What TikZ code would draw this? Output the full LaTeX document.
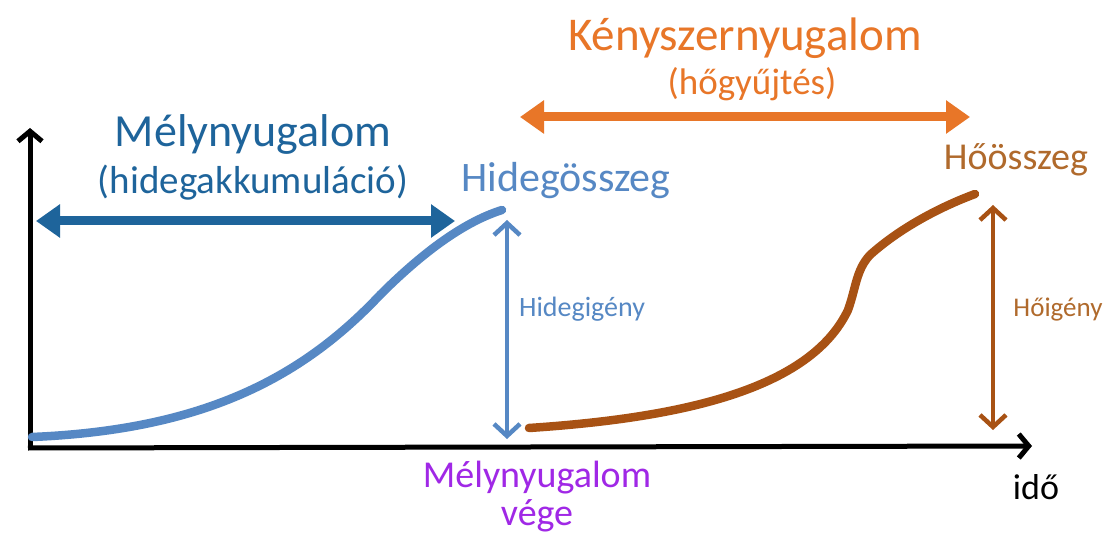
\documentclass[tikz,border=0pt]{standalone}
\usepackage{fontspec}
\setmainfont{Carlito}
\usetikzlibrary{arrows.meta}
\definecolor{cblue}{RGB}{86,136,196}
\definecolor{dblue}{RGB}{30,100,155}
\definecolor{orng}{RGB}{232,118,40}
\definecolor{brwn}{RGB}{168,82,20}
\definecolor{ltbrwn}{RGB}{176,106,44}
\definecolor{purp}{RGB}{160,40,230}
\tikzset{
  axis/.style={line width=5pt,-{Straight Barb[length=10pt,width=24pt,line width=5pt]}},
  curve/.style={line width=8.5pt,line cap=round},
  thin2/.style={line width=4.5pt,{Straight Barb[length=12pt,width=26pt,line width=4.5pt]}-{Straight Barb[length=12pt,width=26pt,line width=4.5pt]}},
  thick2/.style={line width=9pt,{Triangle[length=24pt,width=32pt]}-{Triangle[length=24pt,width=32pt]}},
  lbl/.style={inner sep=0pt,anchor=center}
}
\begin{document}
\begin{tikzpicture}[x=1pt,y=-1pt]
\fill[white] (0,0) rectangle (1105,534);
\useasboundingbox (0,0) rectangle (1105,534);
% axes
\coordinate (O) at (30,448);
\coordinate (Ytop) at (30,128);
\coordinate (Xend) at (1032,446);
\draw[axis] (O) -- (Ytop);
\draw[axis] (28,448) -- (Xend);
% blue curve
\draw[curve,cblue] (32,437) .. controls (200,430) and (300,380) .. (380,295)
  .. controls (430,245) and (470,220) .. (502,210);
% brown curve
\draw[curve,brwn] (529,428) .. controls (680,418) and (810,390) .. (848,310)
  .. controls (856,288) and (856,270) .. (870,255)
  .. controls (900,228) and (940,207) .. (975,194);
% vertical double arrows
\coordinate (bt) at (507,220);
\coordinate (bb) at (507,439);
\draw[thin2,cblue] (bt) -- (bb);
\coordinate (rt) at (993,205);
\coordinate (rb) at (993,430);
\draw[thin2,brwn] (rt) -- (rb);
% horizontal thick arrows
\coordinate (dl) at (36,221);
\coordinate (dr) at (455,221);
\draw[thick2,dblue] (dl) -- (dr);
\coordinate (ol) at (520,117);
\coordinate (or) at (970,117);
\draw[thick2,orng] (ol) -- (or);
% labels
\node[lbl,dblue,font=\fontsize{46}{46}\selectfont] (mely) at (253,134) {Mélynyugalom};
\node[lbl,dblue,font=\fontsize{39}{39}\selectfont] (hidak) at (253,183) {(hidegakkumuláció)};
\node[lbl,orng,font=\fontsize{47}{47}\selectfont] (keny) at (745,38) {Kényszernyugalom};
\node[lbl,orng,font=\fontsize{37}{37}\selectfont] (hogy) at (752,84) {(hőgyűjtés)};
\node[lbl,cblue,font=\fontsize{42}{42}\selectfont] (hossz) at (566,181) {Hidegösszeg};
\node[lbl,ltbrwn,font=\fontsize{38}{38}\selectfont] (hoossz) at (1016,160) {Hőösszeg};
\node[lbl,cblue,font=\fontsize{28}{28}\selectfont] (higeny) at (582,309) {Hidegigény};
\node[lbl,ltbrwn,font=\fontsize{27}{27}\selectfont] (hoigeny) at (1058,310) {Hőigény};
\node[lbl,purp,font=\fontsize{38}{38}\selectfont] (veg1) at (537,478) {Mélynyugalom};
\node[lbl,purp,font=\fontsize{38}{38}\selectfont] (veg2) at (537,516) {vége};
\node[lbl,black,font=\fontsize{36}{36}\selectfont] (ido) at (1036,487) {idő};
\end{tikzpicture}
\end{document}
